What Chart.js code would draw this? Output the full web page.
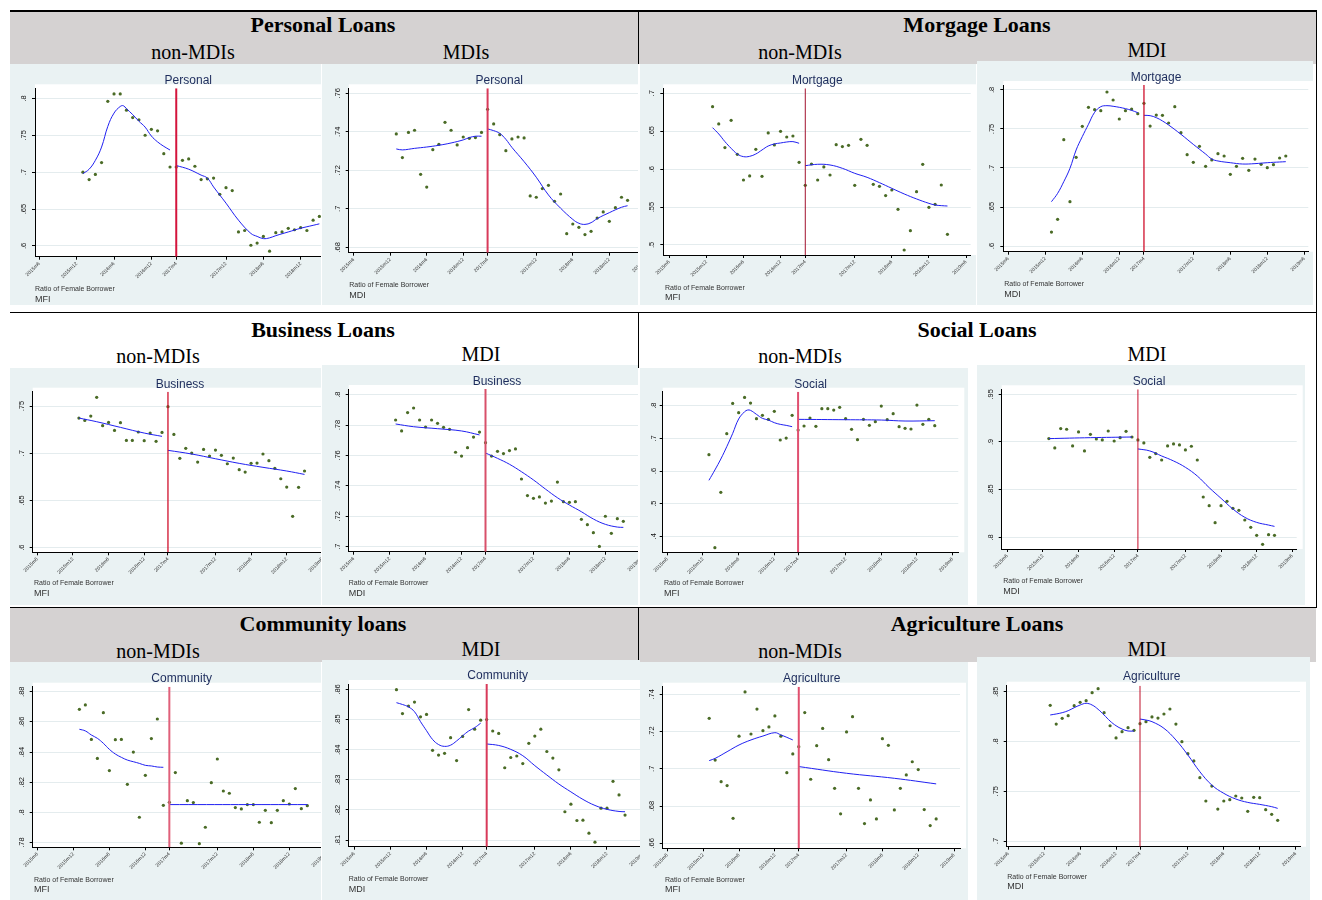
<!DOCTYPE html>
<html lang="en">
<head>
<meta charset="UTF-8">
<title>Ratio of Female Borrower by Loan Type</title>
<script src="https://cdn.jsdelivr.net/npm/chart.js"></script>
<style>
  body { margin:0; background:#fff; width:1322px; height:900px; position:relative; overflow:hidden;
         font-family:"Liberation Sans", Arial, sans-serif; }
  .band { position:absolute; background:#d5d2d2; }
  .rule { position:absolute; background:#000; }
  .head { position:absolute; transform:translate(-50%,-50%); white-space:nowrap; color:#000;
          font-family:"Liberation Serif", "Times New Roman", serif; }
  .head.main { font-weight:bold; font-size:22px; }
  .head.sub { font-size:20px; }
  .panel { position:absolute; background:#eaf2f3; overflow:hidden; }
  .panel canvas { position:absolute; left:0; top:0; }
  .ptitle { position:absolute; transform:translate(-50%,-50%); font-size:12px; color:#1d2c5c; white-space:nowrap; }
  .note { position:absolute; transform:translateY(-50%); color:#333; white-space:nowrap; }
</style>
</head>
<body>
<script>
// months counted from 2015m6 = 0
const months = [7,8,9,10,11,12,13,14,15,16,17,18,19,20,21,
                22,23,24,25,26,27,28,29,30,31,32,33,34,35,36,37,38,39,40,41,42,43,44,45];
const cutoffMonth = 22; // 2017m4
const xTickMonths = [0, 6, 12, 18, 22, 30, 36, 42, 48];
const xTickLabels = ['2015m6','2015m12','2016m6','2016m12','2017m4','2017m12','2018m6','2018m12','2019m6'];

// ratio of female borrowers, monthly
const personalNon = [0.700,0.690,0.697,0.713,0.796,0.806,0.806,0.784,0.774,0.771,0.750,0.758,0.756,0.725,0.707,
  0.707,0.716,0.718,0.708,0.690,0.691,0.692,0.670,0.679,0.675,0.619,0.621,0.601,0.604,0.613,0.593,0.618,0.619,0.624,0.622,0.625,0.621,0.635,0.640];
const personalMdi = [0.7389,0.7266,0.7397,0.7408,0.7179,0.7113,0.7307,0.7335,0.7449,0.7408,0.7332,0.7373,0.7366,0.7370,0.7397,
  0.7517,0.7441,0.7385,0.7302,0.7363,0.7373,0.7368,0.7067,0.7060,0.7105,0.7122,0.7039,0.7077,0.6871,0.6921,0.6904,0.6866,0.6883,0.6952,0.6984,0.6935,0.7006,0.7060,0.7044];
const mortgageNon = [0.6824,0.6596,0.6284,0.6644,0.6196,0.5857,0.5910,0.6262,0.5905,0.6477,0.6319,0.6499,0.6424,0.6437,0.6090,
  0.5787,0.6068,0.5857,0.6029,0.5923,0.6323,0.6297,0.6314,0.5787,0.6393,0.6314,0.5800,0.5774,0.5651,0.5725,0.5470,0.4934,0.5189,0.5703,0.6064,0.5497,0.5536,0.5791,0.5141];
const mortgageMdi = [0.6179,0.6342,0.7363,0.6568,0.7137,0.7534,0.7778,0.7748,0.7735,0.7974,0.7872,0.7628,0.7735,0.7756,0.7697,
  0.7829,0.7538,0.7679,0.7675,0.7577,0.7786,0.7453,0.7171,0.7073,0.7278,0.7021,0.7103,0.7184,0.7154,0.6919,0.7021,0.7124,0.6970,0.7115,0.7047,0.7004,0.7043,0.7128,0.7154];
const businessNon = [0.7373,0.7348,0.7394,0.7592,0.7292,0.7327,0.7242,0.7324,0.7136,0.7136,0.7225,0.7133,0.7214,0.7126,0.7221,
  0.7493,0.7200,0.6946,0.7052,0.7002,0.6907,0.7041,0.6971,0.7034,0.6978,0.6889,0.6949,0.6826,0.6801,0.6893,0.6896,0.6992,0.6921,0.6840,0.6730,0.6642,0.6332,0.6639,0.6812];
const businessMdi = [0.7833,0.7761,0.7882,0.7912,0.7833,0.7787,0.7833,0.7811,0.7785,0.7772,0.7621,0.7596,0.7651,0.7721,0.7754,
  0.7684,0.7596,0.7627,0.7612,0.7632,0.7643,0.7445,0.7336,0.7318,0.7327,0.7287,0.7300,0.7425,0.7296,0.7292,0.7296,0.7180,0.7145,0.7092,0.7002,0.7200,0.7088,0.7184,0.7167];
const socialNon = [0.650,0.3653,0.5347,0.7143,0.8071,0.7786,0.8255,0.8082,0.7602,0.7704,0.7582,0.7827,0.6949,0.7010,0.7704,
  0.7255,0.7378,0.7622,0.7367,0.7908,0.7908,0.7867,0.7949,0.7602,0.7276,0.6959,0.7582,0.7398,0.7510,0.7990,0.7571,0.7755,0.7357,0.7306,0.7286,0.8020,0.7429,0.7582,0.7388];
const socialMdi = [0.9035,0.8937,0.9140,0.9133,0.8958,0.9105,0.8906,0.9080,0.9031,0.9021,0.9115,0.9010,0.9045,0.9112,0.9052,
  0.9021,0.8990,0.8839,0.8878,0.8811,0.8958,0.8979,0.8969,0.8916,0.8955,0.8811,0.8423,0.8332,0.8154,0.8332,0.8378,0.8304,0.8283,0.8182,0.8105,0.8021,0.7927,0.8028,0.8021];
const communityNon = [0.8683,0.8712,0.8484,0.8358,0.8661,0.8277,0.8482,0.8484,0.8186,0.8400,0.7968,0.8246,0.8489,0.8619,0.8047,
  0.8067,0.8264,0.7796,0.8078,0.8065,0.7793,0.7902,0.8197,0.8354,0.8142,0.8127,0.8032,0.8023,0.8052,0.8052,0.7935,0.8014,0.7932,0.8014,0.8078,0.8056,0.8158,0.8025,0.8045];
const communityMdi = [0.8599,0.8520,0.8545,0.8558,0.8509,0.8517,0.8398,0.8382,0.8388,0.8440,0.8364,0.8444,0.8533,0.8468,0.8498,
  0.8500,0.8462,0.8454,0.8340,0.8374,0.8379,0.8354,0.8421,0.8445,0.8468,0.8394,0.8372,0.8333,0.8194,0.8219,0.8165,0.8166,0.8123,0.8093,0.8206,0.8206,0.8295,0.8250,0.8183];
const agriNon = [0.7271,0.7047,0.6931,0.6910,0.6734,0.7175,0.7413,0.7187,0.7321,0.7205,0.7225,0.7284,0.7175,0.6979,0.7080,
  0.7119,0.7302,0.6944,0.7124,0.7217,0.7049,0.6895,0.6758,0.7198,0.7280,0.6895,0.6706,0.6833,0.6731,0.7162,0.7126,0.6779,0.6895,0.6967,0.7038,0.6996,0.6781,0.6695,0.6731];
const agriMdi = [0.8363,0.8175,0.8232,0.8259,0.8359,0.8393,0.8410,0.8490,0.8530,0.8289,0.8158,0.8035,0.8098,0.8138,0.8112,
  0.8179,0.8199,0.8246,0.8235,0.8276,0.8326,0.8175,0.7998,0.7877,0.7804,0.7636,0.7402,0.7552,0.7321,0.7402,0.7415,0.7452,0.7432,0.7298,0.7439,0.7435,0.7315,0.7268,0.7208];

// lowess fits before / after the cutoff, [month, value]
const personalNonFitPre = [[7,.698],[8,.704],[9,.716],[10,.734],[11,.762],[12,.780],[13,.789],[13.5,.790],[14,.786],[15,.778],[16,.769],[17,.761],[18,.749],[19,.741],[20,.735],[21,.730]];
const personalNonFitPost = [[22,.709],[24,.704],[26,.696],[27,.692],[28,.680],[30,.658],[32,.635],[34,.617],[35,.613],[36,.610],[37,.611],[38,.614],[40,.619],[42,.624],[44,.628],[45,.630]];
const personalMdiFitPre = [[7,.7311],[8,.7306],[10,.7314],[12,.7321],[14,.7330],[16,.7342],[18,.7358],[19,.7370],[20,.7377],[21,.7377]];
const personalMdiFitPost = [[22,.7415],[23,.7406],[24,.7392],[25,.7361],[26,.7319],[28,.7245],[30,.7164],[32,.7072],[34,.7003],[36,.6945],[37,.6925],[38,.6919],[39,.6928],[40,.6949],[42,.6980],[44,.7008],[45,.7016]];
const mortgageNonFitPre = [[7,.6547],[8,.6464],[9,.6363],[10,.6275],[11,.6200],[12,.6165],[13,.6169],[14,.6200],[15,.6253],[16,.6305],[17,.6332],[18,.6345],[19,.6358],[20,.6363],[21,.6341]];
const mortgageNonFitPost = [[22,.6046],[24,.6064],[26,.6055],[28,.6011],[30,.5945],[32,.5892],[34,.5822],[36,.5747],[38,.5673],[40,.5607],[42,.5549],[43,.5527],[44,.5519],[45,.5514]];
const mortgageMdiFitPre = [[7,.6568],[8,.6675],[9,.6825],[10,.6996],[11,.7231],[12,.7402],[13,.7560],[14,.7714],[15,.7786],[16,.7799],[17,.7791],[18,.7778],[19,.7761],[20,.7739],[21,.7709]];
const mortgageMdiFitPost = [[22,.7675],[23,.7671],[24,.7645],[25,.7603],[26,.7551],[28,.7432],[30,.7303],[32,.7179],[33,.7115],[34,.7090],[36,.7068],[38,.7051],[40,.7056],[42,.7068],[44,.7077],[45,.7081]];
const businessNonFitPre = [[7,.7373],[10,.7334],[14,.7274],[18,.7214],[21,.7179]];
const businessNonFitPost = [[22,.7031],[26,.6992],[30,.6942],[34,.6893],[38,.6851],[42,.6812],[45,.6776]];
const businessMdiFitPre = [[7,.7807],[10,.7789],[14,.7776],[18,.7761],[21,.7735]];
const businessMdiFitPost = [[22,.7616],[24,.7581],[26,.7542],[28,.7493],[30,.7439],[32,.7379],[34,.7322],[36,.7274],[38,.7230],[40,.7182],[42,.7147],[44,.7129],[45,.7127]];
const socialNonFitPre = [[7,.5714],[8,.6031],[9,.6367],[10,.6745],[11,.7153],[12,.7592],[13,.7816],[13.5,.7867],[14,.7857],[15,.7735],[16,.7612],[17,.7561],[18,.7480],[19,.7429],[20,.7398],[21,.7357]];
const socialNonFitPost = [[22,.7582],[30,.7571],[36,.7561],[40,.7531],[45,.7541]];
const socialMdiFitPre = [[7,.9035],[14,.9045],[21,.9052]];
const socialMdiFitPost = [[22,.8927],[24,.8906],[26,.8853],[28,.8801],[30,.8734],[32,.8643],[34,.8521],[36,.8409],[38,.8297],[40,.8210],[42,.8157],[44,.8129],[45,.8115]];
const communityNonFitPre = [[7,.8551],[8,.8540],[9,.8513],[10,.8491],[11,.8458],[12,.8418],[13,.8387],[14,.8365],[15,.8347],[16,.8336],[17,.8325],[18,.8312],[19,.8308],[20,.8301],[21,.8299]];
const communityNonFitPost = [[22,.8052],[45,.8052]];
const communityMdiFitPre = [[7,.8556],[8,.8550],[9,.8542],[10,.8526],[11,.8493],[12,.8463],[13,.8434],[14,.8417],[15,.8411],[16,.8415],[17,.8429],[18,.8446],[19,.8462],[20,.8473],[21,.8488]];
const communityMdiFitPost = [[22,.8419],[24,.8414],[26,.8401],[28,.8380],[30,.8347],[32,.8316],[34,.8286],[36,.8260],[38,.8235],[40,.8215],[42,.8202],[44,.8195],[45,.8194]];
const agriNonFitPre = [[7,.7044],[8,.7056],[10,.7092],[12,.7128],[14,.7155],[16,.7176],[18,.7194],[19,.7182],[20,.7169],[21,.7155]];
const agriNonFitPost = [[22,.7012],[30,.6976],[38,.6949],[45,.6919]];
const agriMdiFitPre = [[7,.8266],[8,.8276],[9,.8289],[10,.8309],[11,.8339],[12,.8366],[13,.8383],[14,.8366],[15,.8323],[16,.8266],[17,.8205],[18,.8158],[19,.8125],[20,.8105],[21,.8105]];
const agriMdiFitPost = [[22,.8225],[23,.8215],[24,.8199],[26,.8132],[28,.8015],[30,.7864],[32,.7696],[34,.7562],[36,.7479],[38,.7422],[40,.7388],[42,.7368],[44,.7345],[45,.7328]];

// y tick values per panel
const yTicksPersonalNon = [.6,.65,.7,.75,.8];
const yTicksPersonalMdi = [.68,.7,.72,.74,.76];
const yTicksMortgageNon = [.5,.55,.6,.65,.7];
const yTicksMortgageMdi = [.6,.65,.7,.75,.8];
const yTicksBusinessNon = [.6,.65,.7,.75];
const yTicksBusinessMdi = [.7,.72,.74,.76,.78,.8];
const yTicksSocialNon = [.4,.5,.6,.7,.8];
const yTicksSocialMdi = [.8,.85,.9,.95];
const yTicksCommunityNon = [.78,.8,.82,.84,.86,.88];
const yTicksCommunityMdi = [.81,.82,.83,.84,.85,.86];
const yTicksAgriNon = [.66,.68,.7,.72,.74];
const yTicksAgriMdi = [.7,.75,.8,.85];

// page layout: box = panel rect, plot = axis rect (page px), x/y = axis ranges
const panels = [
  { name:'Personal', who:'MFI', vals:personalNon, pre:personalNonFitPre, post:personalNonFitPost, yTicks:yTicksPersonalNon,
    box:[10,64,311,241], plot:[35,88.3,342,256.7], x:[-0.70,48.64], y:[.5855,.8136], title:[188.3,80], notes:[35,288.3,299.3], cut:['#d4143c',2] },
  { name:'Personal', who:'MDI', vals:personalMdi, pre:personalMdiFitPre, post:personalMdiFitPost, yTicks:yTicksPersonalMdi,
    box:[322,64,316,241], plot:[348.7,88.3,650.7,252.7], x:[-0.82,48.8], y:[.6772,.7626], title:[499.3,80], notes:[349.3,284,295], cut:['#d83a5a',2] },
  { name:'Mortgage', who:'MFI', vals:mortgageNon, pre:mortgageNonFitPre, post:mortgageNonFitPost, yTicks:yTicksMortgageNon,
    box:[640,64,336,241], plot:[663.3,88.3,970.7,255], x:[-0.97,48.76], y:[.4868,.7066], title:[817.3,80], notes:[665,286.7,297.3], cut:['#a3122e',1] },
  { name:'Mortgage', who:'MDI', vals:mortgageMdi, pre:mortgageMdiFitPre, post:mortgageMdiFitPost, yTicks:yTicksMortgageMdi,
    box:[977,61,336,244], plot:[1003.3,85,1308.3,251.7], x:[-0.81,48.65], y:[.5927,.8064], title:[1156,76.7], notes:[1004.3,283.3,294.3], cut:['#d0102c',1.3] },
  { name:'Business', who:'MFI', vals:businessNon, pre:businessNonFitPre, post:businessNonFitPost, yTicks:yTicksBusinessNon,
    box:[10,368,311,237], plot:[32.7,391.7,326.5,552.3], x:[-0.78,48.7], y:[.5951,.7652], title:[180,384.3], notes:[34,582.3,593.3], cut:['#d0102c',1.3] },
  { name:'Business', who:'MDI', vals:businessMdi, pre:businessMdiFitPre, post:businessMdiFitPost, yTicks:yTicksBusinessMdi,
    box:[322,365,316,240], plot:[348.7,389,646.1,551.7], x:[-0.83,48.8], y:[.6967,.8037], title:[497,381], notes:[348.7,582.3,593.3], cut:['#d8506a',2] },
  { name:'Social', who:'MFI', vals:socialNon, pre:socialNonFitPre, post:socialNonFitPost, yTicks:yTicksSocialNon,
    box:[640,368,328,237], plot:[662.7,391.7,958.3,552.3], x:[-0.78,48.96], y:[.351,.8429], title:[810.7,384.3], notes:[664,582.3,593.3], cut:['#e05070',2] },
  { name:'Social', who:'MDI', vals:socialMdi, pre:socialMdiFitPre, post:socialMdiFitPost, yTicks:yTicksSocialMdi,
    box:[977,365,328,240], plot:[1001.7,389.3,1296.7,549], x:[-0.94,48.74], y:[.7878,.9552], title:[1149,380.7], notes:[1003.3,580,590.7], cut:['#c8102c',1] },
  { name:'Community', who:'MFI', vals:communityNon, pre:communityNonFitPre, post:communityNonFitPost, yTicks:yTicksCommunityNon,
    box:[10,662,311,238], plot:[32.7,686.7,330.1,847.3], x:[-0.78,48.8], y:[.7769,.8833], title:[181.7,678.3], notes:[34,879,889.3], cut:['#e0607a',2] },
  { name:'Community', who:'MDI', vals:communityMdi, pre:communityMdiFitPre, post:communityMdiFitPost, yTicks:yTicksCommunityMdi,
    box:[322,660,318,240], plot:[348.7,684,647.9,846.7], x:[-0.94,48.8], y:[.8078,.8618], title:[497.7,675.3], notes:[348.7,878.3,889.3], cut:['#d83a5a',2] },
  { name:'Agriculture', who:'MFI', vals:agriNon, pre:agriNonFitPre, post:agriNonFitPost, yTicks:yTicksAgriNon,
    box:[640,662,328,238], plot:[662.7,686.7,960,848.3], x:[-0.78,48.99], y:[.6573,.7441], title:[811.7,678.3], notes:[665,879,889.3], cut:['#e0506e',2] },
  { name:'Agriculture', who:'MDI', vals:agriMdi, pre:agriMdiFitPre, post:agriMdiFitPost, yTicks:yTicksAgriMdi,
    box:[977,657,333,243], plot:[1006.7,685.7,1300,846.7], x:[-0.27,48.73], y:[.6943,.856], title:[1151.7,675.7], notes:[1007.3,875.7,885.7], cut:['#c0102a',1] }
];

// section headings
const headings = [
  ['main','Personal Loans',323,25], ['sub','non-MDIs',193,52], ['sub','MDIs',466,52],
  ['main','Morgage Loans',977,25], ['sub','non-MDIs',800,52], ['sub','MDI',1147,50],
  ['main','Business Loans',323,330], ['sub','non-MDIs',158,356], ['sub','MDI',481,354],
  ['main','Social Loans',977,330], ['sub','non-MDIs',800,356], ['sub','MDI',1147,354],
  ['main','Community loans',323,624], ['sub','non-MDIs',158,651], ['sub','MDI',481,649],
  ['main','Agriculture Loans',977,624], ['sub','non-MDIs',800,651], ['sub','MDI',1147,649]
];

function addBox(cls, x, y, w, h) {
  const d = document.createElement('div');
  d.className = cls;
  Object.assign(d.style, { left: x + 'px', top: y + 'px', width: w + 'px', height: h + 'px' });
  document.body.appendChild(d);
  return d;
}

// grey header bands and frame rules
addBox('band', 10, 10, 1306, 54);
addBox('band', 10, 607, 1306, 55);
addBox('rule', 10, 10, 1307, 1.5);
addBox('rule', 10, 311.5, 1307, 1.5);
addBox('rule', 10, 606.5, 1307, 1.5);
addBox('rule', 637.5, 10, 1.5, 54);
addBox('rule', 637.5, 312, 1.5, 56);
addBox('rule', 637.5, 607, 1.5, 55);
addBox('rule', 1315.5, 10, 1.5, 598);

headings.forEach(([kind, text, x, y]) => {
  const d = document.createElement('div');
  d.className = 'head ' + kind;
  d.textContent = text;
  d.style.left = x + 'px';
  d.style.top = y + 'px';
  document.body.appendChild(d);
});

// white plot region behind the marks
const plotBg = {
  id: 'plotBg',
  beforeDraw(chart) {
    const { ctx, chartArea: a } = chart;
    ctx.save();
    ctx.fillStyle = '#fff';
    ctx.fillRect(a.left, a.top - 4, a.right - a.left + 6, a.bottom - a.top + 4);
    ctx.restore();
  }
};

const tickFont = { family: '"Liberation Sans", Arial, sans-serif' };
const fmtY = v => String(v).replace(/^0\./, '.');

function drawPanel(p) {
  const [bx, by, bw, bh] = p.box;
  const [l, t, r, b] = p.plot;
  const div = addBox('panel', bx, by, bw, bh);

  const cw = Math.max(bw, Math.ceil(r - bx) + 4);
  const canvas = document.createElement('canvas');
  canvas.width = cw;
  canvas.height = bh;
  canvas.style.width = cw + 'px';
  canvas.style.height = bh + 'px';
  div.appendChild(canvas);

  const title = document.createElement('div');
  title.className = 'ptitle';
  title.textContent = p.name;
  title.style.left = (p.title[0] - bx) + 'px';
  title.style.top = (p.title[1] - by) + 'px';
  div.appendChild(title);

  const n1 = document.createElement('div');
  n1.className = 'note';
  n1.style.fontSize = '7px';
  n1.textContent = 'Ratio of Female Borrower';
  n1.style.left = (p.notes[0] - bx) + 'px';
  n1.style.top = (p.notes[1] - by) + 'px';
  div.appendChild(n1);
  const n2 = document.createElement('div');
  n2.className = 'note';
  n2.style.fontSize = '9px';
  n2.textContent = p.who;
  n2.style.left = (p.notes[0] - bx) + 'px';
  n2.style.top = (p.notes[2] - by) + 'px';
  div.appendChild(n2);

  const yW = l - bx;
  const xH = by + bh - b;
  const zeroPad = s => { s.paddingLeft = s.paddingRight = s.paddingTop = s.paddingBottom = 0; };
  const fitLine = pts => ({
    type: 'line',
    data: pts.map(([x, y]) => ({ x, y })),
    borderColor: '#2020f2', borderWidth: 1, pointRadius: 0, tension: 0.4
  });

  new Chart(canvas, {
    type: 'scatter',
    data: {
      datasets: [
        { type: 'line', data: [{ x: cutoffMonth, y: p.y[0] }, { x: cutoffMonth, y: p.y[1] }],
          borderColor: p.cut[0], borderWidth: p.cut[1], pointRadius: 0 },
        fitLine(p.pre),
        fitLine(p.post),
        { type: 'scatter', data: months.map((m, i) => ({ x: m, y: p.vals[i] })),
          pointRadius: 1.6, backgroundColor: '#4a6b26', borderWidth: 0 }
      ]
    },
    options: {
      responsive: false,
      animation: false,
      events: [],
      layout: { padding: { top: t - by, right: cw - (r - bx), left: 0, bottom: 0 } },
      plugins: { legend: { display: false }, tooltip: { enabled: false }, title: { display: false } },
      scales: {
        x: {
          type: 'linear', min: p.x[0], max: p.x[1],
          afterBuildTicks: s => { s.ticks = xTickMonths.map(v => ({ value: v })); },
          afterFit: s => { s.height = xH; zeroPad(s); },
          ticks: { autoSkip: false, minRotation: 45, maxRotation: 45, padding: 1, color: '#333',
                   font: { ...tickFont, size: 5 }, callback: (v, i) => xTickLabels[i] },
          grid: { drawOnChartArea: false, tickLength: 3, color: '#000', tickColor: '#000' },
          border: { color: '#000', width: 1 }
        },
        y: {
          type: 'linear', min: p.y[0], max: p.y[1],
          afterBuildTicks: s => { s.ticks = p.yTicks.map(v => ({ value: v })); },
          afterFit: s => { s.width = yW; zeroPad(s); },
          ticks: { minRotation: 90, maxRotation: 90, crossAlign: 'center', padding: 3, color: '#111',
                   font: { ...tickFont, size: 7.5 }, callback: (v, i) => fmtY(p.yTicks[i]) },
          grid: { color: '#e4ecee', lineWidth: 1, tickLength: 3, tickColor: '#000' },
          border: { color: '#000', width: 1 }
        }
      }
    },
    plugins: [plotBg]
  });
}

panels.forEach(drawPanel);
</script>
</body>
</html>
